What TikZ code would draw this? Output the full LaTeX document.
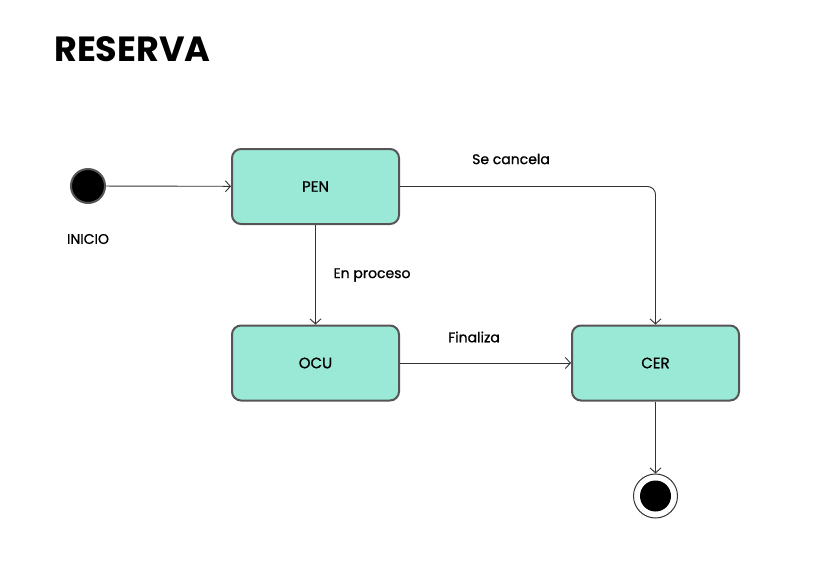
\documentclass[tikz,border=0pt]{standalone}
\usepackage{fontspec}
\setmainfont{Poppins}
\newfontfamily\medfont{Poppins}[FakeBold=1]
\usetikzlibrary{arrows.meta}
\definecolor{mint}{HTML}{9AE9D6}
\definecolor{edgegray}{HTML}{555555}
\definecolor{linegray}{HTML}{333333}
\tikzset{
  statebox/.style={draw=edgegray, line width=2pt, fill=mint, rounded corners=9pt,
    minimum width=167pt, minimum height=75pt, font=\medfont\fontsize{15}{18}\selectfont},
  lbl/.style={font=\medfont\fontsize{14}{17}\selectfont, inner sep=0pt},
  conn/.style={draw=linegray, line width=0.9pt, -{Straight Barb[length=5pt,width=11pt]}},
}
\begin{document}
\begin{tikzpicture}[x=1pt,y=-1pt]
\useasboundingbox (0,0) rectangle (815,568);
\node[anchor=west, inner sep=0pt, font=\bfseries\fontsize{35}{40}\selectfont] (title) at (54,49.5) {RESERVA};
\node[circle, fill=black, draw=edgegray, line width=2pt, minimum size=34pt, inner sep=0pt] (ini) at (88,186) {};
\node[lbl] (inil) at (88,239) {INICIO};
\node[statebox] (pen) at (315.5,186.5) {PEN};
\node[statebox] (ocu) at (315.5,363) {OCU};
\node[statebox] (cer) at (655.5,363) {CER};
\node[circle, draw=linegray, line width=1pt, fill=white, minimum size=44pt, inner sep=0pt] (fin) at (655.5,496) {};
\node[circle, fill=black, minimum size=31pt, inner sep=0pt] (finin) at (fin) {};
\coordinate (corner) at (655.5,186.5);
\draw[conn] (ini) -- (pen);
\draw[conn, rounded corners=8pt] (pen.east) -- (corner) -- (cer.north);
\draw[conn] (pen) -- (ocu);
\draw[conn] (ocu) -- (cer);
\draw[conn] (cer) -- (fin);
\node[lbl] (l1) at (511,159) {Se cancela};
\node[lbl] (l2) at (372,275) {En proceso};
\node[lbl] (l3) at (474,337) {Finaliza};
\end{tikzpicture}
\end{document}
